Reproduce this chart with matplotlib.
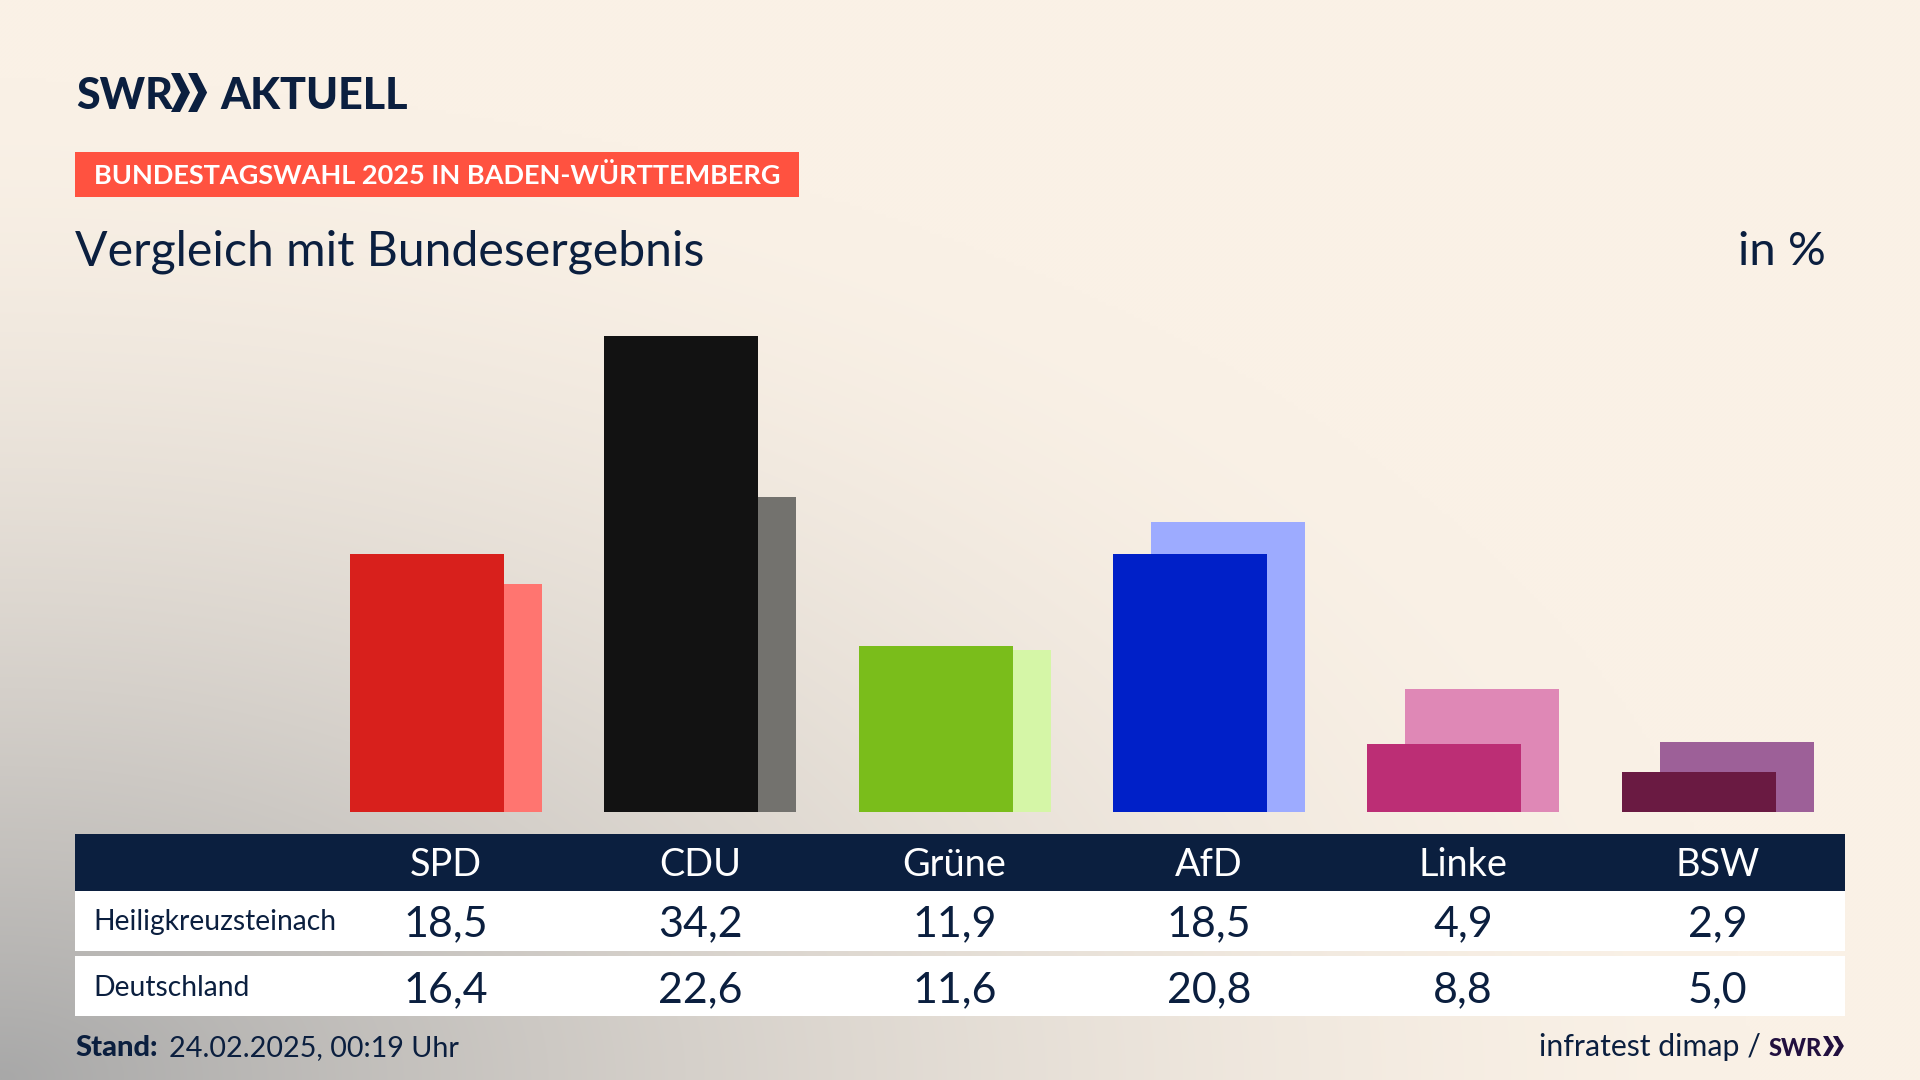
import matplotlib
matplotlib.use('Agg')
import matplotlib.pyplot as plt
from matplotlib.patches import Polygon, Rectangle
from matplotlib.transforms import blended_transform_factory
import numpy as np

parties = ['SPD', 'CDU', 'Grüne', 'AfD', 'Linke', 'BSW']
ort = [18.5, 34.2, 11.9, 18.5, 4.9, 2.9]
bund = [16.4, 22.6, 11.6, 20.8, 8.8, 5.0]
ort_labels = ['18,5', '34,2', '11,9', '18,5', '4,9', '2,9']
bund_labels = ['16,4', '22,6', '11,6', '20,8', '8,8', '5,0']
ort_colors = ['#D8201C', '#121212', '#7ABD1B', '#0020C8', '#BC2E75', '#6A1A42']
bund_colors = ['#FF7570', '#73726E', '#D5F6A7', '#9DABFF', '#DF88B6', '#9D6098']

NAVY = '#0B1F3F'
W, H = 1920, 1080
plt.rcParams['font.family'] = ['Lato', 'DejaVu Sans']

fig = plt.figure(figsize=(19.2, 10.8), dpi=100)

# background + everything placed in pixels
bg = fig.add_axes([0, 0, 1, 1])
bg.set_xlim(0, W)
bg.set_ylim(H, 0)
bg.axis('off')

yy, xx = np.mgrid[0:H:270j, 0:W:480j]
r = np.sqrt((xx / 1750) ** 2 + ((H - yy) / 1000) ** 2)
t = np.clip(1 - r, 0, 1) ** 1.6
cream = np.array([250, 241, 230]) / 255
grey = np.array([168, 168, 168]) / 255
img = cream + (grey - cream) * t[..., None]
bg.imshow(img, extent=[0, W, H, 0], aspect='auto', interpolation='bilinear', zorder=0)

# bar axes: category spacing 254.3px, baseline at y=812
step = 254.3
ax = fig.add_axes([(446 - step / 2) / W, (H - 812) / H, step * 6 / W, 36 * 13.93 / H])
ax.set_xlim(-0.5, 5.5)
ax.set_ylim(0, 36)
ax.axis('off')
x = np.arange(len(parties))
bw = 154 / step
off = 19 / step
ax.bar(x + off, bund, width=bw, color=bund_colors, zorder=2)
ax.bar(x - off, ort, width=bw, color=ort_colors, zorder=3)

# table
bg.add_patch(Rectangle((75, 834), 1770, 57, color=NAVY, lw=0, zorder=1))
bg.add_patch(Rectangle((75, 891), 1770, 60, color='white', lw=0, zorder=1))
bg.add_patch(Rectangle((75, 956), 1770, 60, color='white', lw=0, zorder=1))

col = blended_transform_factory(ax.transData, bg.transData)
for i, p in enumerate(parties):
    bg.text(i, 876, p, transform=col, ha='center', va='baseline', color='white', fontsize=27.3)
    bg.text(i, 936, ort_labels[i], transform=col, ha='center', va='baseline', color=NAVY, fontsize=31)
    bg.text(i, 1002, bund_labels[i], transform=col, ha='center', va='baseline', color=NAVY, fontsize=31)

bg.text(93, 930, 'Heiligkreuzsteinach', ha='left', va='baseline', color=NAVY, fontsize=20.3)
bg.text(93, 996, 'Deutschland', ha='left', va='baseline', color=NAVY, fontsize=20.3)

# header
bg.text(76, 109, 'SWR', ha='left', va='baseline', color=NAVY, fontsize=31, fontweight='black')
bg.text(220, 109, 'AKTUELL', ha='left', va='baseline', color=NAVY, fontsize=31, fontweight='black')


def chevrons(x0, y0, y1, w, th, color):
    # two arrow heads side by side
    mid = (y0 + y1) / 2
    for k in range(2):
        xs = x0 + k * (w * 0.9)
        bg.add_patch(Polygon([(xs, y0), (xs + th, y0), (xs + w, mid), (xs + th, y1), (xs, y1), (xs + w - th, mid)],
                             closed=True, color=color, lw=0, zorder=2))


chevrons(171, 73, 112, 19, 9, NAVY)

bg.add_patch(Rectangle((75, 152), 724, 45, color='#FF5240', lw=0, zorder=1))
bg.text(94, 184, 'BUNDESTAGSWAHL 2025 IN BADEN-WÜRTTEMBERG', ha='left', va='baseline',
        color='white', fontsize=19.5, fontweight='bold')

bg.text(75, 265, 'Vergleich mit Bundesergebnis', ha='left', va='baseline', color=NAVY, fontsize=34.7)
bg.text(1826, 265, 'in %', ha='right', va='baseline', color=NAVY, fontsize=34)

# footer
bg.text(75, 1056, 'Stand:', ha='left', va='baseline', color=NAVY, fontsize=21, fontweight='black')
bg.text(169, 1056, '24.02.2025, 00:19 Uhr', ha='left', va='baseline', color=NAVY, fontsize=20.7)
bg.text(1761, 1056, 'infratest dimap /', ha='right', va='baseline', color=NAVY, fontsize=21.8)
bg.text(1769, 1056, 'SWR', ha='left', va='baseline', color='#22103F', fontsize=17, fontweight='black')
chevrons(1823, 1036, 1056, 11, 5, '#22103F')

fig.savefig('out.png', dpi=100)
